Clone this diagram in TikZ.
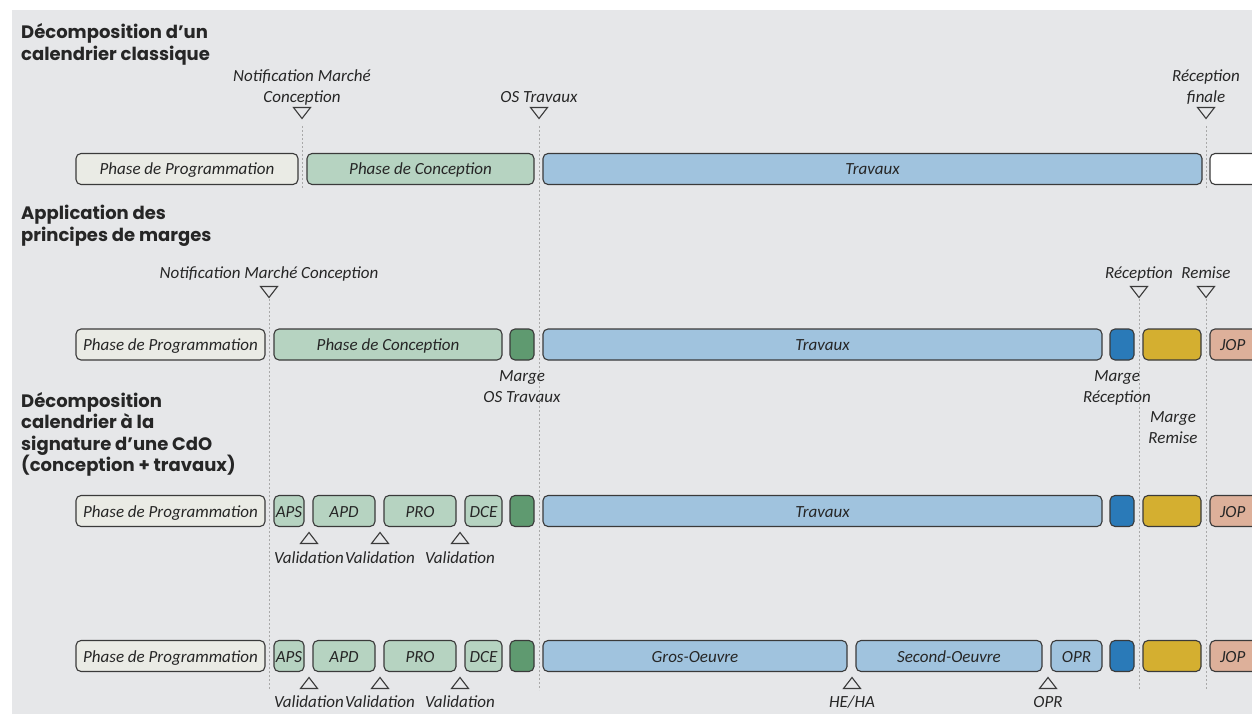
\documentclass[tikz,border=0pt]{standalone}
\usepackage{fontspec}
\setmainfont{Carlito}
\newfontfamily\headfont{Poppins}
\usetikzlibrary{calc}

\definecolor{cbg}{HTML}{E6E7E9}
\definecolor{cprog}{HTML}{EAEBE5}
\definecolor{cconc}{HTML}{B6D3C1}
\definecolor{ctrav}{HTML}{A0C3DE}
\definecolor{cmos}{HTML}{5F9A70}
\definecolor{cmrec}{HTML}{2A7AB8}
\definecolor{cmrem}{HTML}{D4AF30}
\definecolor{cjop}{HTML}{DDB09A}
\definecolor{cline}{HTML}{3A3A3A}
\definecolor{ctext}{HTML}{262626}
\definecolor{cdot}{HTML}{A9A9A9}

\tikzset{
  phase/.style={draw=cline, line width=1.1pt, rounded corners=5pt, minimum height=31pt,
    inner sep=0pt, text height=14pt, text depth=2pt, text=ctext,
    font=\itshape\fontsize{17}{20}\selectfont},
  lbl/.style={text=ctext, font=\itshape\fontsize{17}{21}\selectfont, align=center,
    inner sep=0pt, text depth=2.5pt, anchor=south},
  titre/.style={text=black!85, font=\headfont\bfseries\fontsize{18}{21.5}\selectfont,
    align=left, anchor=north west, inner sep=0pt},
  jalon/.style={draw=cdot, line width=1pt, dash pattern=on 2pt off 2pt},
  tri/.style={draw=cline, line width=1.1pt},
  jbas/.pic={\draw[tri] (-8.5,-5.5) -- (8.5,-5.5) -- (0,5.5) -- cycle;},
  jhaut/.pic={\draw[tri] (-8.5,5.5) -- (8.5,5.5) -- (0,-5.5) -- cycle;}
}

\begin{document}
\begin{tikzpicture}[x=1pt, y=-1pt]
    \clip (0,0) rectangle (1252,714);
    \fill[cbg] (12,10) rectangle (1252,714);

    % lignes de jalons
    \foreach \n/\x/\ya/\yb in {a/302/126/189, b/539/126/690, c/1206/126/189,
                               d/269/299/690, e/1139/299/690, f/1206/299/690} {
        \coordinate (g\n1) at (\x,\ya);
        \coordinate (g\n2) at (\x,\yb);
        \draw[jalon] (g\n1) -- (g\n2);
    }

    % titres
    \node[titre] (t1) at (21,23.5) {Décomposition d’un\\calendrier classique};
    \node[titre] (t2) at (21,205) {Application des\\principes de marges};
    \node[titre] (t3) at (21,392) {Décomposition\\calendrier à la\\signature d’une CdO\\(conception + travaux)};

    % calendrier classique
    \node[phase, fill=cprog, minimum width=222pt] (prog1) at (187,169) {Phase de Programmation};
    \node[phase, fill=cconc, minimum width=227pt] (conc1) at (420.5,169) {Phase de Conception};
    \node[phase, fill=ctrav, minimum width=659pt] (trav1) at (872.5,169) {Travaux};
    \node[phase, fill=white, minimum width=52pt] (fin1) at (1236,169) {};

    \coordinate (jn1) at (302,113);
    \coordinate (jos1) at (539,113);
    \coordinate (jrf1) at (1206,113);
    \pic at (jn1) {jbas};
    \pic at (jos1) {jbas};
    \pic at (jrf1) {jbas};
    \node[lbl] (ln1) at (302,105) {Notification Marché\\Conception};
    \node[lbl] (los1) at (539,105) {OS Travaux};
    \node[lbl] (lrf1) at (1206,105) {Réception\\finale};

    % principes de marges
    \node[phase, fill=cprog, minimum width=189pt] (prog2) at (170.5,344.5) {Phase de Programmation};
    \node[phase, fill=cconc, minimum width=228pt] (conc2) at (388,344.5) {Phase de Conception};
    \node[phase, fill=cmos, minimum width=24pt] (mos2) at (522,344.5) {};
    \node[phase, fill=ctrav, minimum width=559pt] (trav2) at (822.5,344.5) {Travaux};
    \node[phase, fill=cmrec, minimum width=24pt] (mrec2) at (1122,344.5) {};
    \node[phase, fill=cmrem, minimum width=58pt] (mrem2) at (1172,344.5) {};
    \node[phase, fill=cjop, minimum width=52pt, text width=32pt, align=left] (jop2) at (1236,344.5) {JOP};

    \coordinate (jn2) at (269,292);
    \coordinate (jrec2) at (1139,292);
    \coordinate (jrem2) at (1206,292);
    \pic at (jn2) {jbas};
    \pic at (jrec2) {jbas};
    \pic at (jrem2) {jbas};
    \node[lbl] (ln2) at (269,281) {Notification Marché Conception};
    \node[lbl] (lrec2) at (1139,281) {Réception};
    \node[lbl] (lrem2) at (1206,281) {Remise};
    \node[lbl] (lmos2) at (522,405) {Marge\\OS Travaux};
    \node[lbl] (lmrec2) at (1117,405) {Marge\\Réception};
    \node[lbl] (lmrem2) at (1173,446) {Marge\\Remise};

    % signature CdO
    \foreach \r/\y in {3/511, 4/656} {
        \node[phase, fill=cprog, minimum width=189pt] (prog\r) at (170.5,\y) {Phase de Programmation};
        \node[phase, fill=cconc, minimum width=30pt] (aps\r) at (289,\y) {APS};
        \node[phase, fill=cconc, minimum width=62pt] (apd\r) at (344,\y) {APD};
        \node[phase, fill=cconc, minimum width=72pt] (pro\r) at (420,\y) {PRO};
        \node[phase, fill=cconc, minimum width=37pt] (dce\r) at (483.5,\y) {DCE};
        \node[phase, fill=cmos, minimum width=24pt] (mos\r) at (522,\y) {};
        \node[phase, fill=cmrec, minimum width=24pt] (mrec\r) at (1122,\y) {};
        \node[phase, fill=cmrem, minimum width=58pt] (mrem\r) at (1172,\y) {};
        \node[phase, fill=cjop, minimum width=52pt, text width=32pt, align=left] (jop\r) at (1236,\y) {JOP};
    }
    \node[phase, fill=ctrav, minimum width=559pt] (trav3) at (822.5,511) {Travaux};
    \node[phase, fill=ctrav, minimum width=304pt] (go4) at (695,656) {Gros-Oeuvre};
    \node[phase, fill=ctrav, minimum width=186pt] (so4) at (949,656) {Second-Oeuvre};
    \node[phase, fill=ctrav, minimum width=51pt] (opr4) at (1076.5,656) {OPR};

    \foreach \r/\yt/\yl in {3/538/566, 4/683/710} {
        \foreach \x [count=\i] in {309, 380, 460} {
            \coordinate (jv\r\i) at (\x,\yt);
            \pic at (jv\r\i) {jhaut};
            \node[lbl] (lv\r\i) at (\x,\yl) {Validation};
        }
    }
    \coordinate (jhe4) at (852,683);
    \coordinate (jopr4) at (1048,683);
    \pic at (jhe4) {jhaut};
    \pic at (jopr4) {jhaut};
    \node[lbl] (lhe4) at (852,710) {HE/HA};
    \node[lbl] (lopr4) at (1048,710) {OPR};
\end{tikzpicture}
\end{document}
